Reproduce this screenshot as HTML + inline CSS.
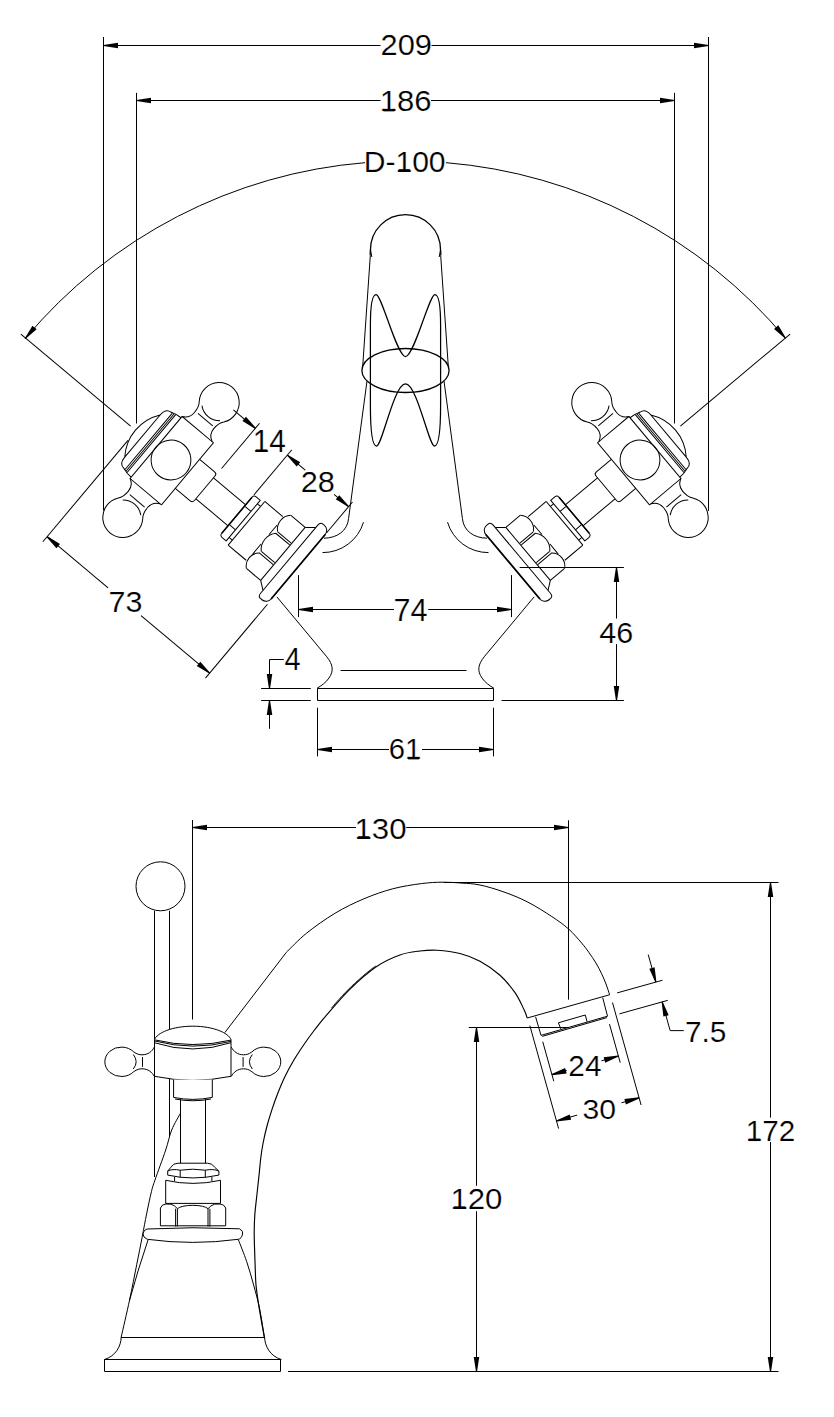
<!DOCTYPE html>
<html><head><meta charset="utf-8"><title>Tap drawing</title>
<style>
html,body{margin:0;padding:0;background:#fff;}
svg{display:block;}
text{font-family:"Liberation Sans",sans-serif;fill:#000;stroke:#fff;stroke-width:0.2px;paint-order:fill stroke;}
.a{fill:#000;stroke:none;}
</style></head><body>
<svg width="834" height="1417" viewBox="0 0 834 1417">
<g fill="none" stroke="#000" stroke-width="1" stroke-linecap="butt" stroke-linejoin="round">
<line x1="103.5" y1="37" x2="103.5" y2="510.5"/>
<line x1="708.5" y1="37" x2="708.5" y2="511"/>
<line x1="103.5" y1="45.5" x2="380.5" y2="45.5"/>
<line x1="431.5" y1="45.5" x2="708.5" y2="45.5"/>
<path class="a" d="M103.5,44.95 L118,42.75 L118,48.25 L103.5,46.05 Z"/>
<path class="a" d="M708.5,46.05 L694,48.25 L694,42.75 L708.5,44.95 Z"/>
<g class="a" transform="translate(380.51,54.56) scale(1.0559,1)"><text font-size="29.24">209</text></g>
<line x1="136.5" y1="92.9" x2="136.5" y2="423.5"/>
<line x1="674.5" y1="92.9" x2="674.5" y2="423.5"/>
<line x1="136.5" y1="100.5" x2="380.5" y2="100.5"/>
<line x1="431" y1="100.5" x2="674.5" y2="100.5"/>
<path class="a" d="M136.5,99.95 L151,97.75 L151,103.25 L136.5,101.05 Z"/>
<path class="a" d="M674.5,101.05 L660,103.25 L660,97.75 L674.5,99.95 Z"/>
<g class="a" transform="translate(379.69,111.45) scale(1.0526,1)"><text font-size="29.52">186</text><rect x="3.5" y="-2.41" width="10.45" height="2.31"/></g>
<path d="M25.26,338.51 A496,496 0 0 1 365,162.66"/>
<path d="M446,162.66 A496,496 0 0 1 785.5,338.23"/>
<path class="a" d="M24.84,338.16 L32.46,325.63 L36.68,329.16 L25.68,338.87 Z"/>
<path class="a" d="M785.08,338.58 L774.08,328.89 L778.29,325.35 L785.92,337.88 Z"/>
<g class="a" transform="translate(363.68,171.56) scale(1.0338,1)"><text font-size="29.1">D-100</text><rect x="33.98" y="-2.37" width="10.64" height="2.27"/></g>
<path stroke-width="1.3" d="M370.3,255.5 C370,252 370.4,250.5 370.5,249.6 A35,35 0 0 1 440.5,249.6 C440.6,250.5 441,252 440.7,255.5"/>
<path d="M370.5,249.6 L371.8,257 M440.5,249.6 L439.2,257"/>
<path d="M370.3,255.5 L362.7,366.5 M367,381 L348.6,518.4"/>
<path d="M440.7,255.5 L448.3,366.5 M444,381 L462.4,518.4"/>
<path d="M348.6,518.4 C347.5,531 337,538 324,538.2"/>
<path d="M462.4,518.4 C463.5,531 474,538 487,538.2"/>
<path d="M363.5,522.2 A42.6,42.6 0 0 1 322.5,552.6"/>
<path d="M447.5,522.2 A42.6,42.6 0 0 0 488.5,552.6"/>
<path stroke-width="1.25" d="M405.5,356.6 C397,356.6 381.7,294.5 376.1,294.5 C372.5,294.5 370.4,305 370.4,325 L370.4,405 C370.4,430 372.5,446 376.6,446 C382.1,446 394,383.8 405.5,383.8 C417,383.8 428.9,446 434.4,446 C438.5,446 440.6,430 440.6,405 L440.6,325 C440.6,305 438.5,294.5 434.9,294.5 C429.3,294.5 414,356.6 405.5,356.6 Z"/>
<ellipse stroke-width="1.3" cx="405.5" cy="370.5" rx="43.6" ry="22"/>
<rect x="317.5" y="688.5" width="176" height="12"/>
<line x1="340.6" y1="670.5" x2="466.5" y2="670.5"/>
<path d="M276.9,596.9 L326.8,656.8 C333,664.5 334,671 329,678 C326,682.5 321,686 317.1,688.2"/>
<path d="M534.1,596.9 L484.2,656.8 C478,664.5 477,671 482,678 C485,682.5 490,686 493.9,688.2"/>
<line x1="298.5" y1="575.1" x2="298.5" y2="617.1"/>
<line x1="511.5" y1="575.1" x2="511.5" y2="617.1"/>
<line x1="298.5" y1="609.5" x2="394" y2="609.5"/>
<line x1="428.2" y1="609.5" x2="511.5" y2="609.5"/>
<path class="a" d="M298.5,608.95 L313,606.75 L313,612.25 L298.5,610.05 Z"/>
<path class="a" d="M511.5,610.05 L497,612.25 L497,606.75 L511.5,608.95 Z"/>
<g class="a" transform="translate(393.59,621.15) scale(0.9984,1)"><text font-size="30.67">74</text></g>
<line x1="519.6" y1="567.5" x2="623.9" y2="567.5"/>
<line x1="501.6" y1="700.5" x2="623.9" y2="700.5"/>
<line x1="616.5" y1="567.5" x2="616.5" y2="618.6"/>
<line x1="616.5" y1="644.1" x2="616.5" y2="700.5"/>
<path class="a" d="M617.05,567.5 L619.25,582 L613.75,582 L615.95,567.5 Z"/>
<path class="a" d="M615.95,700.5 L613.75,686 L619.25,686 L617.05,700.5 Z"/>
<g class="a" transform="translate(599.35,642.65) scale(1.0243,1)"><text font-size="29.8">46</text></g>
<line x1="261.1" y1="688.5" x2="310.8" y2="688.5"/>
<line x1="261.1" y1="700.5" x2="310.8" y2="700.5"/>
<line x1="269.5" y1="659.5" x2="269.5" y2="688.5"/>
<line x1="269.5" y1="700.5" x2="269.5" y2="728.8"/>
<line x1="269.5" y1="659.5" x2="283.8" y2="659.5"/>
<path class="a" d="M268.95,688.5 L266.75,674 L272.25,674 L270.05,688.5 Z"/>
<path class="a" d="M270.05,700.5 L272.25,715 L266.75,715 L268.95,700.5 Z"/>
<g class="a" transform="translate(284.48,669.95) scale(0.9491,1)"><text font-size="30.52">4</text></g>
<line x1="317.5" y1="707.7" x2="317.5" y2="756.4"/>
<line x1="493.5" y1="707.7" x2="493.5" y2="756.4"/>
<line x1="317.5" y1="749.5" x2="389" y2="749.5"/>
<line x1="422" y1="749.5" x2="493.5" y2="749.5"/>
<path class="a" d="M317.5,748.95 L332,746.75 L332,752.25 L317.5,750.05 Z"/>
<path class="a" d="M493.5,750.05 L479,752.25 L479,746.75 L493.5,748.95 Z"/>
<g class="a" transform="translate(388.66,759.46) scale(1.0004,1)"><text font-size="29.24">61</text><rect x="19.4" y="-2.39" width="11" height="2.29"/></g>
<defs>
<g id="hhalf">
 <path d="M-19.5,-40.5 C-14,-43 -12.6,-46.5 -12.6,-51.5 C-12.6,-56.5 -13.3,-59.8 -16,-63 A20,20 0 1 1 16,-63 C13.3,-59.8 12.6,-56.5 12.6,-51.5 C12.6,-46.5 14,-43 19.8,-40.5"/>
 <path d="M-11.3,-61.6 A18,18 0 0 0 12.3,-61.6"/>
 <path d="M-9.3,-53 H10"/>
 <path d="M-37.3,-27.5 C-37.3,-33 -35.5,-36.4 -31,-36.6 L-25,-38.3 L-19.5,-38.8"/>
</g>
<g id="hnd">
 <use href="#hhalf"/>
 <use href="#hhalf" transform="scale(1,-1)"/>
 <path d="M-37.3,-27.5 A46,46 0 0 0 -37.3,27.5 Z"/>
 <path d="M-29.1,-36.8 V36.8 M-27.3,-37.2 V37.2 M-25.6,-37.8 V37.8"/>
 <path d="M-19.5,-40.5 H21.5 V40.5 H-19.5 Z"/>
 <circle r="19.9"/>
 <path d="M21.5,-19 H41 Q44,-19 44,-16 V16 Q44,19 41,19 H21.5"/>
 <path d="M44,-13.7 H86 M44,13.7 H86"/>
 <path d="M94.3,-26.5 H89 Q86,-26.5 86,-23.5 V23.5 Q86,26.5 89,26.5 H94.3 Z"/>
 <path d="M86.8,-12 H94.3 M86.8,12 H94.3"/>
 <path d="M94.3,-22 H98.5 M94.3,22 H98.5"/>
 <path d="M86,-23.5 V23.5" stroke-width="1.5"/>
 <path d="M98.5,-28.5 H122 M98.5,28.5 H122 M98.5,-28.5 V28.5"/>
 <path d="M127.5,-34.6 H146.1 V34.6 H127.5"/>
 <path d="M127.3,-34.6 A13.9,13.9 0 0 0 127.7,-13.7"/>
 <path d="M127.6,-11.3 A16.5,16.5 0 0 0 127.8,12"/>
 <path d="M127.6,14.4 A13,13 0 0 0 127.4,34.6"/>
 <path d="M123.1,-18.5 L123,-6 M123,6.5 L123.1,19.5"/>
 <path d="M128,-13.5 H145.5 M127.3,-11.2 H145.5 M128,12 H145.5 M127.3,14.4 H145.5"/>
 <path d="M146.1,-34.6 L154.3,-41.3 M146.1,34.6 L154.3,40.8"/>
 <path d="M154.3,-44.5 Q154.3,-48.6 157.5,-48.6 L159.5,-48.6 A6.5,6.5 0 0 1 166,-42.1 V42.1 A6.5,6.5 0 0 1 159.5,48.6 L157.5,48.6 Q154.3,48.6 154.3,44.5 Z"/>
 <path d="M166,-42.1 V42.1" stroke-width="1.7"/>
</g>
</defs>
<g transform="translate(171,460) rotate(40)"><use href="#hnd"/></g>
<g transform="translate(811,0) scale(-1,1)"><g transform="translate(171,460) rotate(40)"><use href="#hnd"/></g></g>
<g transform="translate(171,460) rotate(40)"><path d="M-52.7,0 L-196,0"/><path d="M44.2,-26 L44.2,-85"/><path d="M15.6,-78.5 L44.2,-78.5"/><path d="M86,-26.5 L86,-85.5"/><path d="M86,-78.5 L109.4,-78.5"/><path d="M147,-78.5 L166,-78.5"/><path d="M166,-44 L166,-84.5"/><path d="M-45.6,12.6 L-45.6,145"/><path d="M166.6,48.5 L166.6,145"/><path d="M-45.6,138.4 L34,138.4"/><path d="M77,138.4 L166.6,138.4"/></g>
<g transform="translate(811,0) scale(-1,1)"><g transform="translate(171,460) rotate(40)"><path d="M-52.7,0 L-196,0"/></g></g>
<path class="a" d="M254.96,428.7 L242.44,421.06 L245.98,416.85 L255.67,427.86 Z"/>
<path class="a" d="M287.69,454.72 L300.21,462.36 L296.68,466.57 L286.99,455.57 Z"/>
<path class="a" d="M348.27,506.99 L335.75,499.35 L339.28,495.14 L348.98,506.15 Z"/>
<path class="a" d="M47.46,536.29 L59.98,543.92 L56.45,548.14 L46.75,537.13 Z"/>
<path class="a" d="M209.31,673.53 L196.79,665.9 L200.32,661.68 L210.01,672.69 Z"/>
<g class="a" transform="translate(252.69,452.05) scale(0.9668,1)"><text font-size="30.81">14</text><rect x="3.42" y="-2.52" width="11.38" height="2.42"/></g>
<g class="a" transform="translate(300.71,491.65) scale(1.0307,1)"><text font-size="29.8">28</text></g>
<g class="a" transform="translate(108.6,611.55) scale(1.0228,1)"><text font-size="29.8">73</text></g>
<line x1="192.5" y1="820" x2="192.5" y2="1019.5"/>
<line x1="568.5" y1="820.3" x2="568.5" y2="999.6"/>
<line x1="192.5" y1="827.5" x2="356" y2="827.5"/>
<line x1="406.2" y1="827.5" x2="568.5" y2="827.5"/>
<path class="a" d="M192.5,826.95 L207,824.75 L207,830.25 L192.5,828.05 Z"/>
<path class="a" d="M568.5,828.05 L554,830.25 L554,824.75 L568.5,826.95 Z"/>
<g class="a" transform="translate(354.48,838.65) scale(1.0430,1)"><text font-size="29.94">130</text><rect x="3.57" y="-2.45" width="10.55" height="2.35"/></g>
<circle cx="160.5" cy="886.3" r="24.5"/>
<line x1="154.5" y1="910.8" x2="154.5" y2="1177"/>
<line x1="169.5" y1="910.8" x2="169.5" y2="1040"/>
<line x1="169.5" y1="1078" x2="169.5" y2="1137"/>
<path d="M180.6,1113 C179.12,1115.83 174.18,1123.83 171.7,1130 C169.22,1136.17 168.48,1141.67 165.7,1150 C162.92,1158.33 157.37,1173.12 155,1180 C152.63,1186.88 152.9,1185.65 151.5,1191.3 C150.1,1196.95 148.13,1206.38 146.6,1213.9 C145.07,1221.42 143.95,1227.93 142.3,1236.4 C140.65,1244.87 138.82,1254.12 136.7,1264.7 C134.58,1275.28 132.18,1287.85 129.6,1299.9 C127.02,1311.95 122.6,1330.82 121.2,1337"/>
<line x1="224.8" y1="1032.6" x2="286.2" y2="952.5"/>
<path d="M286.2,952.5 C289.55,949.32 298.15,939.95 306.3,933.4 C314.45,926.85 325.5,918.97 335.1,913.2 C344.7,907.43 354.3,902.87 363.9,898.8 C373.5,894.73 383.12,891.33 392.7,888.8 C402.28,886.27 413.05,884.7 421.4,883.6 C429.75,882.5 436.03,882.28 442.8,882.2 C449.57,882.12 455.8,882.63 462,883.1 C468.2,883.57 473,883.52 480,885 C487,886.48 496,889.13 504,892 C512,894.87 520.02,898.1 528,902.2 C535.98,906.3 545.13,912.13 551.9,916.6 C558.67,921.07 563.65,924.6 568.6,929 C573.55,933.4 578.23,939.12 581.6,943 C584.97,946.88 586.4,948.95 588.8,952.3 C591.2,955.65 593.85,959.5 596,963.1 C598.15,966.7 600.03,970.42 601.7,973.9 C603.37,977.38 604.68,980.55 606,984 C607.32,987.45 609,992.83 609.6,994.6"/>
<path stroke-width="1.15" d="M527.2,1018 C526.67,1016.6 526.03,1013.82 524,1009.6 C521.97,1005.38 519,998.4 515,992.68 C511,986.97 505.83,980.53 500,975.3 C494.17,970.08 486.67,964.95 480,961.32 C473.33,957.68 467.17,955.36 460,953.51 C452.83,951.66 443.67,950.64 437,950.22 C430.33,949.81 426.18,950.2 420,951 C413.82,951.8 407.2,952.37 399.9,955 C392.6,957.63 384.55,961.08 376.2,966.8 C367.85,972.52 358.15,981.17 349.8,989.3 C341.45,997.43 331.98,1008.82 326.1,1015.6 C320.22,1022.38 318.22,1025.15 314.5,1030 C310.78,1034.85 307.28,1039.62 303.8,1044.7 C300.32,1049.78 296.82,1055.03 293.6,1060.5 C290.38,1065.97 287.13,1072.03 284.5,1077.5 C281.87,1082.97 279.87,1088.03 277.8,1093.3 C275.73,1098.57 273.9,1103.65 272.1,1109.1 C270.3,1114.55 268.5,1120.35 267,1126 C265.5,1131.65 264.13,1137.72 263.1,1143 C262.07,1148.28 261.47,1152.43 260.8,1157.7 C260.13,1162.97 259.8,1167.97 259.1,1174.6 C258.4,1181.23 257.32,1190.77 256.6,1197.5 C255.88,1204.23 255.2,1209.18 254.8,1215 C254.4,1220.82 254.23,1226.58 254.2,1232.4 C254.17,1238.22 254.43,1244.07 254.6,1249.9 C254.77,1255.73 254.97,1261.57 255.2,1267.4 C255.43,1273.23 255.48,1279.07 256,1284.9 C256.52,1290.73 257.43,1296.57 258.3,1302.4 C259.17,1308.23 260.18,1314.08 261.2,1319.9 C262.22,1325.72 263.87,1334.4 264.4,1337.3"/>
<path stroke-width="0.9" d="M375.69,966.06 L374.42,966.94 L373.13,967.87 L371.82,968.84 L370.5,969.84 L369.17,970.88 L367.83,971.94 L366.48,973.04 L365.13,974.16 L363.77,975.3 L362.41,976.46 L361.05,977.64 L359.7,978.84 L358.35,980.05 L357,981.27 L355.66,982.5 L354.34,983.73 L353.02,984.96 L351.72,986.2 L350.44,987.43 L349.17,988.66 L347.9,989.91 L346.62,991.2 L345.33,992.53 L344.04,993.89 L342.74,995.27 L341.45,996.68 L340.16,998.09 L338.87,999.52 L337.6,1000.94 L336.35,1002.36 L335.11,1003.77 L333.9,1005.16 L332.71,1006.53 L331.55,1007.88"/>
<line x1="527.2" y1="1018" x2="609.8" y2="994.7"/>
<path d="M535.6,1016.8 L541,1035.4 L607.5,1016.2 L602.7,997.6"/>
<path d="M542.2,1036.4 L606.9,1017.6"/>
<path d="M560.8,1028.9 L558.4,1022.8 L585.3,1015 L587.1,1021.8"/>
<path fill="#fff" d="M154.5,1039.6 C157,1033 172,1026.2 192.8,1026.2 C213.6,1026.2 228.6,1033 231,1039.6 V1076.3 Q192.8,1084.3 154.5,1076.3 Z"/>
<path d="M154.8,1039.9 Q192.8,1049.1 231,1040.1"/>
<path d="M154.8,1041 Q192.8,1051 231,1041.4"/>
<path d="M155,1042.9 Q192.8,1055.1 231,1042.7"/>
<g id="sarm"><path d="M133.7,1051.9 C137,1054.3 139.5,1054.8 142,1054.8 C148,1054.8 152,1051.5 154.3,1047.1"/><path d="M133.7,1071.7 C137,1069.3 139.5,1068.8 142,1068.8 C148,1068.8 152,1072.1 154.3,1076.4"/><path d="M133.7,1051.9 A16.6,14.7 0 1 0 133.7,1071.7"/><path d="M133.3,1054.5 Q139,1061.8 133.3,1069"/><path d="M142.5,1057.1 V1066.8"/></g>
<use href="#sarm" transform="translate(385.6,0) scale(-1,1)"/>
<path fill="#fff" d="M173.6,1079.6 V1097.4 Q192.8,1101.4 212.3,1097.4 V1079.6"/>
<path d="M175,1099 Q192.8,1102.5 211,1099"/>
<line x1="180.5" y1="1099.5" x2="180.5" y2="1166"/>
<line x1="205.5" y1="1099.5" x2="205.5" y2="1166"/>
<path fill="#fff" d="M167.7,1171.1 L171,1167.1 Q173,1163.3 178,1163.2 H207.5 Q212.5,1163.3 214.5,1167.1 L218.9,1171.1 V1175.1 Q192.8,1180.8 167.7,1175.1 Z"/>
<path d="M167.7,1171.1 Q172,1168.6 180.2,1170.2 Q192.8,1168.2 205.3,1170.2 Q213.5,1168.6 218.9,1171.1"/>
<line x1="180.2" y1="1170.2" x2="180.2" y2="1177.6"/>
<line x1="205.3" y1="1170.2" x2="205.3" y2="1177.6"/>
<line x1="174.6" y1="1177" x2="174.6" y2="1181"/>
<line x1="211.9" y1="1177" x2="211.9" y2="1181"/>
<path fill="#fff" d="M165.7,1180.3 Q192.8,1186.5 220.5,1180.3 V1203.4 H165.7 Z"/>
<path fill="#fff" d="M160.4,1225.8 V1208 Q162,1204 166,1204 L171,1204.2 Q175,1205.5 177.5,1208.7 Q181,1205.5 192.8,1205.3 Q204.5,1205.5 208,1208.7 Q210.5,1205.5 214.5,1204.2 L220,1204 Q224.5,1204.5 225.7,1208 V1225.8 Z"/>
<line x1="175.6" y1="1208.7" x2="175.6" y2="1226.5"/>
<line x1="177.4" y1="1208.7" x2="177.4" y2="1226.5"/>
<line x1="208" y1="1208.7" x2="208" y2="1226.5"/>
<line x1="209.9" y1="1208.7" x2="209.9" y2="1226.5"/>
<path fill="#fff" d="M147,1229 Q192.8,1226.6 239.6,1228.8 Q243.5,1231 242.6,1234 Q241.5,1238.8 238.2,1239.3 Q192.8,1245.5 147.3,1239.3 Q143,1237.5 143,1234 Q143.5,1229.8 147,1229 Z"/>
<path d="M148,1240 Q138.5,1268 129.6,1300"/>
<path d="M238.3,1239.6 C239.7,1243.27 244.15,1254.05 246.7,1261.6 C249.25,1269.15 251.47,1277.13 253.6,1284.9 C255.73,1292.67 257.7,1299.47 259.5,1308.2 C261.3,1316.93 263.58,1332.45 264.4,1337.3"/>
<line x1="121.2" y1="1337.5" x2="264.6" y2="1337.5"/>
<path d="M121.2,1337 C121,1346 116,1356 104.2,1359.6"/>
<path d="M264.6,1337 C264.8,1346 269.8,1356 281.5,1359.6"/>
<rect x="104.5" y="1359.5" width="176" height="12"/>
<line x1="288" y1="1371.5" x2="778.5" y2="1371.5"/>
<line x1="443.7" y1="882.5" x2="778.5" y2="882.5"/>
<line x1="770.5" y1="882.5" x2="770.5" y2="1117.6"/>
<line x1="770.5" y1="1142" x2="770.5" y2="1371.5"/>
<path class="a" d="M771.05,882.5 L773.25,897 L767.75,897 L769.95,882.5 Z"/>
<path class="a" d="M769.95,1371.5 L767.75,1357 L773.25,1357 L771.05,1371.5 Z"/>
<g class="a" transform="translate(745.8,1141.15) scale(0.9804,1)"><text font-size="30.23">172</text><rect x="3.32" y="-2.47" width="11.22" height="2.37"/></g>
<line x1="468.8" y1="1027.5" x2="568" y2="1027.5"/>
<line x1="476.5" y1="1027.5" x2="476.5" y2="1185.8"/>
<line x1="476.5" y1="1211.2" x2="476.5" y2="1371.5"/>
<path class="a" d="M477.05,1027.5 L479.25,1042 L473.75,1042 L475.95,1027.5 Z"/>
<path class="a" d="M475.95,1371.5 L473.75,1357 L479.25,1357 L477.05,1371.5 Z"/>
<g class="a" transform="translate(450.38,1208.85) scale(1.0507,1)"><text font-size="29.66">120</text><rect x="3.53" y="-2.42" width="10.47" height="2.32"/></g>
<line x1="529.83" y1="1025.57" x2="558.61" y2="1128.63"/>
<line x1="612.47" y1="1002.5" x2="641.11" y2="1105.07"/>
<line x1="556.46" y1="1120.92" x2="577.16" y2="1115.14"/>
<line x1="621.47" y1="1102.77" x2="639.1" y2="1097.85"/>
<path class="a" d="M556.31,1120.39 L569.68,1114.38 L571.16,1119.67 L556.6,1121.45 Z"/>
<path class="a" d="M639.24,1098.38 L625.87,1104.4 L624.39,1099.1 L638.95,1097.32 Z"/>
<g class="a" transform="translate(582.5,1119.07) scale(1.0779,1)"><text font-size="27.97">30</text></g>
<line x1="542.74" y1="1041.69" x2="553.77" y2="1081.18"/>
<line x1="609.47" y1="1024.1" x2="620.23" y2="1062.63"/>
<line x1="551.94" y1="1074.63" x2="566.77" y2="1070.49"/>
<line x1="601.45" y1="1060.81" x2="618.4" y2="1056.08"/>
<path class="a" d="M551.79,1074.1 L565.17,1068.08 L566.65,1073.38 L552.09,1075.16 Z"/>
<path class="a" d="M618.55,1056.61 L605.17,1062.63 L603.69,1057.33 L618.25,1055.55 Z"/>
<g class="a" transform="translate(568.36,1075.95) scale(0.9973,1)"><text font-size="29.8">24</text></g>
<line x1="617.16" y1="992.88" x2="662.52" y2="980.22"/>
<line x1="619.48" y1="1013.83" x2="667.83" y2="1000.33"/>
<line x1="648.21" y1="954.62" x2="655.88" y2="982.07"/>
<path class="a" d="M655.35,982.22 L649.33,968.85 L654.63,967.37 L656.41,981.92 Z"/>
<line x1="662.15" y1="1001.92" x2="670.16" y2="1030.62"/>
<path class="a" d="M662.68,1001.77 L668.69,1015.14 L663.4,1016.62 L661.62,1002.07 Z"/>
<line x1="670.16" y1="1030.62" x2="683.8" y2="1030.62"/>
<g class="a" transform="translate(684.93,1041.65) scale(0.9965,1)"><text font-size="29.94">7.5</text></g>
</g>
</svg>
</body></html>
